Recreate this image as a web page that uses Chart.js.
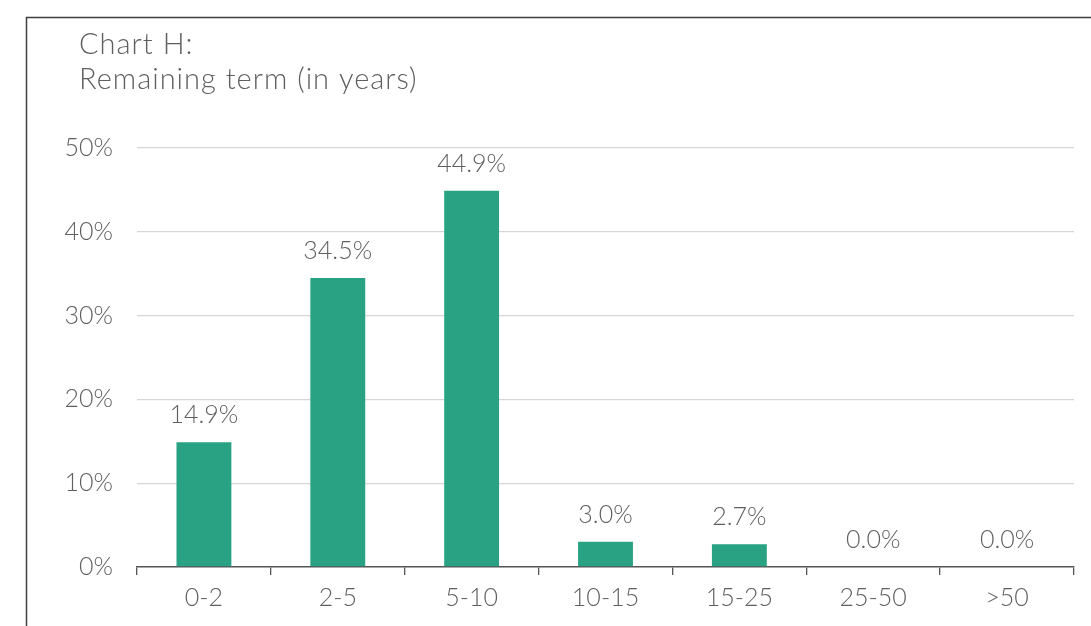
<!DOCTYPE html>
<html>
<head>
<meta charset="utf-8">
<script src="https://cdn.jsdelivr.net/npm/chart.js@4/dist/chart.umd.min.js"></script>
<style>
  html, body { margin: 0; padding: 0; background: #fff; }
  #wrap { width: 1091px; height: 626px; position: relative; }
</style>
</head>
<body>
<div id="wrap"><canvas id="c" width="1091" height="626"></canvas></div>
<script>
// Remaining term buckets and their share of the portfolio (%)
const categories = ['0-2', '2-5', '5-10', '10-15', '15-25', '25-50', '>50'];
const shares = [14.9, 34.5, 44.9, 3.0, 2.7, 0.0, 0.0];
const yTicks = [0, 10, 20, 30, 40, 50];
const titleLines = ['Chart H:', 'Remaining term (in years)'];

const FONT = 'Lato, "Open Sans", "Noto Sans", sans-serif';
const TEXT = '#5f5f5f';

// Frame, title and value labels
const decor = {
  id: 'decor',
  beforeDraw(chart) {
    const ctx = chart.ctx;
    ctx.save();
    ctx.strokeStyle = '#3f3f3f';
    ctx.lineWidth = 1.5;
    ctx.beginPath();
    ctx.moveTo(26.5, 626);
    ctx.lineTo(26.5, 17.5);
    ctx.lineTo(1091, 17.5);
    ctx.stroke();
    ctx.fillStyle = TEXT;
    ctx.font = '300 29px ' + FONT;
    ctx.textBaseline = 'middle';
    ctx.textAlign = 'left';
    ctx.letterSpacing = '1px';
    ctx.fillText(titleLines[0], 79, 45);
    ctx.fillText(titleLines[1], 79, 80);
    ctx.restore();
  },
  afterDatasetsDraw(chart) {
    const ctx = chart.ctx;
    const meta = chart.getDatasetMeta(0);
    ctx.save();
    ctx.fillStyle = TEXT;
    ctx.font = '300 25px ' + FONT;
    ctx.textAlign = 'center';
    ctx.textBaseline = 'middle';
    meta.data.forEach((bar, i) => {
      ctx.fillText(shares[i].toFixed(1) + '%', bar.x, bar.y - 27);
    });
    ctx.restore();
  }
};

new Chart(document.getElementById('c'), {
  type: 'bar',
  data: {
    labels: categories,
    datasets: [{
      data: shares,
      backgroundColor: '#29a283',
      borderWidth: 0,
      categoryPercentage: 1,
      barPercentage: 0.41
    }]
  },
  options: {
    responsive: false,
    animation: false,
    layout: { padding: { top: 148, right: 17, bottom: 0, left: 0 } },
    plugins: { legend: { display: false }, tooltip: { enabled: false } },
    scales: {
      x: {
        offset: true,
        afterFit(s) { s.height = 59; },
        grid: {
          offset: true,
          drawOnChartArea: false,
          drawTicks: true,
          tickLength: 8,
          color: '#555',
          lineWidth: 1.3
        },
        border: { display: true, color: '#555', width: 1.5 },
        ticks: {
          color: TEXT,
          font: { family: FONT, size: 25, weight: 300 },
          padding: 8
        }
      },
      y: {
        min: 0,
        max: 50,
        afterFit(s) { s.width = 137; },
        afterBuildTicks(s) { s.ticks = yTicks.map(v => ({ value: v })); },
        grid: {
          color: (c) => c.tick && c.tick.value === 0 ? 'rgba(0,0,0,0)' : '#d6d6d6',
          lineWidth: 1.3,
          drawTicks: false
        },
        border: { display: false },
        ticks: {
          color: TEXT,
          font: { family: FONT, size: 25, weight: 300 },
          padding: 24,
          callback: (v) => v + '%'
        }
      }
    }
  },
  plugins: [decor]
});
</script>
</body>
</html>
